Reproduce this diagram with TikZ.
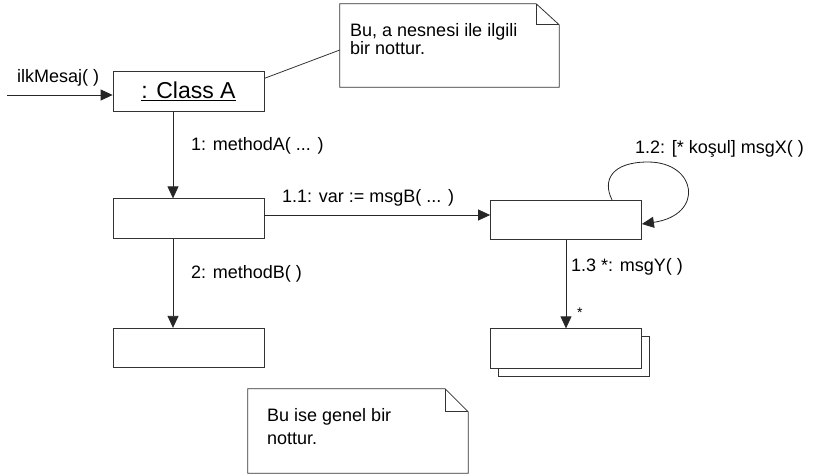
\documentclass[tikz,border=0pt]{standalone}
\usepackage{fontspec}
\setmainfont{Liberation Sans}
\usetikzlibrary{arrows.meta}
\tikzset{obj/.style = {draw=black!80, line width=0.8pt, fill=white,
                       minimum width=151pt, minimum height=39.5pt, inner sep=0pt},
         msg/.style = {draw=black!85, line width=0.8pt,
                       -{Triangle[length=12pt,width=11pt]}},
         lbl/.style = {font=\fontsize{18}{18.3}\selectfont, inner sep=0pt, anchor=base west},
         notebox/.style = {minimum width=219pt, minimum height=83pt, inner sep=0pt},
         noteline/.style = {draw=black!80, line width=0.8pt}}

\begin{document}
\begin{tikzpicture}[x=1pt, y=-1pt]
      \fill [white] (0, 0) rectangle (813, 475);
      \useasboundingbox (0, 0) rectangle (813, 475);

      % objects
      \node [obj, font=\fontsize{23}{26}\selectfont] (classA) at (188.5, 91.5) {\underline{: Class A}};
      \node [obj] (objB) at (188.5, 218.5) {};
      \node [obj] (objC) at (188.5, 348) {};
      \node [obj] (objD) at (566, 220) {};
      \node [obj] (objEback) at (574, 356.5) {};
      \node [obj] (objE) at (566, 348.5) {};

      % notes
      \node [notebox] (noteA) at (449.5, 45.5) {};
      \draw [noteline, fill=white] (noteA.north west) -- ([xshift=-23pt]noteA.north east)
            -- ([yshift=-21pt]noteA.north east) -- (noteA.south east) -- (noteA.south west) -- cycle;
      \draw [noteline] ([xshift=-23pt]noteA.north east) -- ++(0, 21) -- ([yshift=-21pt]noteA.north east);
      \node [lbl, anchor=north west, align=left] (noteAtext) at (350, 23) {Bu, a nesnesi ile ilgili\\bir nottur.};

      \node [notebox, minimum width=220pt, minimum height=84pt] (noteB) at (358, 431) {};
      \draw [noteline, fill=white] (noteB.north west) -- ([xshift=-23pt]noteB.north east)
            -- ([yshift=-23pt]noteB.north east) -- (noteB.south east) -- (noteB.south west) -- cycle;
      \draw [noteline] ([xshift=-23pt]noteB.north east) -- ++(0, 23) -- ([yshift=-23pt]noteB.north east);
      \node [lbl, anchor=north west, align=left, font=\fontsize{18}{23}\selectfont] (noteBtext) at (267, 408) {Bu ise genel bir\\nottur.};

      \draw [noteline] ([yshift=-7pt]classA.north east) -- ([yshift=-4.5pt]noteA.west);

      % messages
      \coordinate (start) at (7, 95);
      \draw [msg] (start) -- (start -| classA.west);
      \draw [msg] ([xshift=-15.5pt]classA.south) -- ([xshift=-15.5pt]objB.north);
      \draw [msg] ([xshift=-15.5pt]objB.south) -- ([xshift=-15.5pt]objC.north);
      \draw [msg] ([yshift=3.5pt]objB.east) -- ([yshift=3.5pt]objB.east -| objD.west);
      \draw [msg] (objD.south) -- (objE.north);
      \draw [msg] ([xshift=46pt]objD.north) .. controls +(-10, -20) and (612, 162) .. (648, 162)
            .. controls (697, 162) and (705, 215) .. ([yshift=-4pt]objD.east);

      \node [lbl] (lblIlk) at (17, 82) {ilkMesaj( )};
      \node [lbl] (lblA) at (191, 150) {1: methodA( ... )};
      \node [lbl] (lblB) at (191, 278) {2: methodB( )};
      \node [lbl] (lblVar) at (282, 202) {1.1: var := msgB( ... )};
      \node [lbl] (lblX) at (635, 153) {1.2: [* koşul] msgX( )};
      \node [lbl] (lblY) at (571, 271) {1.3 *: msgY( )};
      \node [lbl, font=\fontsize{14}{14}\selectfont] (lblStar) at (577, 317) {*};
\end{tikzpicture}
\end{document}
